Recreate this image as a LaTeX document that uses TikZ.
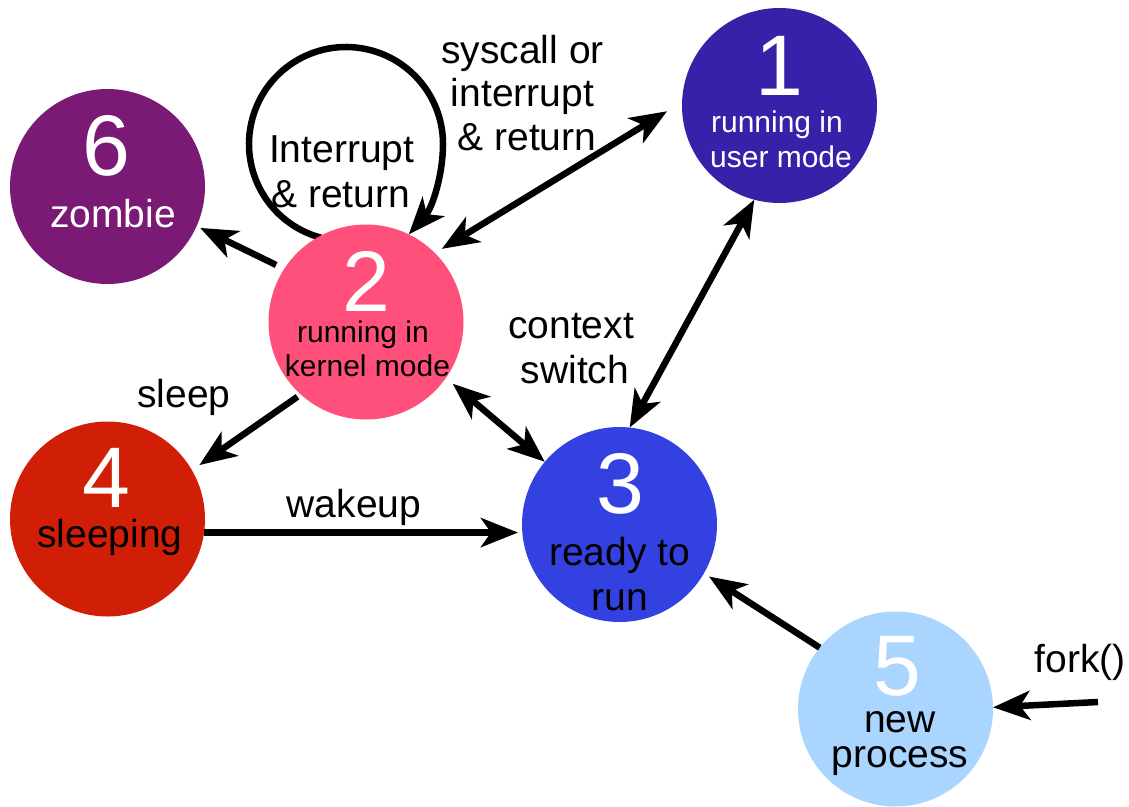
\documentclass[tikz,border=0pt]{standalone}
\usepackage{fontspec}
\setmainfont{Liberation Sans}
\usetikzlibrary{arrows.meta,backgrounds}
\definecolor{cOne}{HTML}{3721A8}
\definecolor{cTwo}{HTML}{FF4F7B}
\definecolor{cThree}{HTML}{3341E0}
\definecolor{cFour}{HTML}{D11E07}
\definecolor{cFive}{HTML}{A9D5FF}
\definecolor{cSix}{HTML}{7B1A74}
\begin{document}
\begin{tikzpicture}[x=1pt,y=-1pt,
  state/.style={circle, minimum size=195pt, inner sep=0pt, outer sep=0pt, draw=none},
  num/.style={font=\fontsize{86}{86}\selectfont, text=white, inner sep=0pt, anchor=base},
  sm/.style={font=\fontsize{30}{30}\selectfont, inner sep=0pt, anchor=base},
  lb/.style={font=\fontsize{39}{39}\selectfont, inner sep=0pt, anchor=base},
  tipA/.tip={Stealth[length=37pt,width=29pt,inset=10pt]},
  arr/.style={line width=6.5pt, -tipA},
  darr/.style={line width=6.5pt, tipA-tipA}
]
\useasboundingbox (0,0) rectangle (1129,806);
% states
\node[state, fill=cOne]   (n1) at (779.5,105.5) {};
\node[state, fill=cTwo]   (n2) at (366,322) {};
\node[state, fill=cThree] (n3) at (619.5,524.5) {};
\node[state, fill=cFour]  (n4) at (107.5,519) {};
\node[state, fill=cFive]  (n5) at (895.5,709) {};
\node[state, fill=cSix]   (n6) at (107.5,186.5) {};
% state texts
\node[num] (t1) at (779,95) {1};
\node[sm, text=white] (t1a) at (777,132) {running in};
\node[sm, text=white] (t1b) at (781,167) {user mode};
\node[num] (t6) at (106,175) {6};
\node[lb, text=white] (t6a) at (113,227) {zombie};
\node[num] (t2) at (366,311) {2};
\node[sm] (t2a) at (363,342) {running in};
\node[sm] (t2b) at (367.5,376) {kernel mode};
\node[num] (t4) at (106,507) {4};
\node[lb] (t4a) at (110,547) {sleeping};
\node[num] (t3) at (620,513) {3};
\node[lb] (t3a) at (619.5,565) {ready to};
\node[lb] (t3b) at (620,610) {run};
\node[num] (t5) at (897,695) {5};
\node[lb] (t5a) at (900,732) {new};
\node[lb] (t5b) at (900,767) {process};
% edge labels
\node[lb] (l1a) at (522.5,63) {syscall or};
\node[lb] (l1b) at (522.5,106) {interrupt};
\node[lb] (l1c) at (527,150) {\& return};
\node[lb] (l2a) at (341.7,162) {Interrupt};
\node[lb] (l2b) at (340.6,207) {\& return};
\node[lb] (l3a) at (571,338) {context};
\node[lb] (l3b) at (575,383) {switch};
\node[lb] (l4) at (184,407) {sleep};
\node[lb] (l5) at (354,517) {wakeup};
\node[lb] (l6) at (1080,672) {fork()};
\coordinate (ls) at (320.9,237.7);
\coordinate (fk) at (1098,702);
% connectors
\begin{scope}[on background layer]
\draw[arr] (ls) arc[start angle=105, end angle=360, radius=97]
   .. controls +(0,30) and +(24,-27) .. (n2.64);
\end{scope}
\draw[arr, shorten <=9pt, shorten >=4pt] (n2.147) -- (n6.-24);
\draw[darr, shorten <=8pt, shorten >=17.5pt] (n2.45) -- (n1.178);
\draw[darr] (n1.255) -- (n3.84);
\draw[darr, shorten <=9pt] (n2.-35) -- (n3.140);
\draw[arr, shorten <=4pt, shorten >=9pt] (n2.228) -- (n4.30);
\draw[arr, shorten >=4pt] (n4.-8) -- (n4.-8 -| n3.west);
\draw[arr, shorten >=6pt] (n5.141) -- (n3.-30);
\draw[arr] (fk) -- (n5.1);
\end{tikzpicture}
\end{document}
